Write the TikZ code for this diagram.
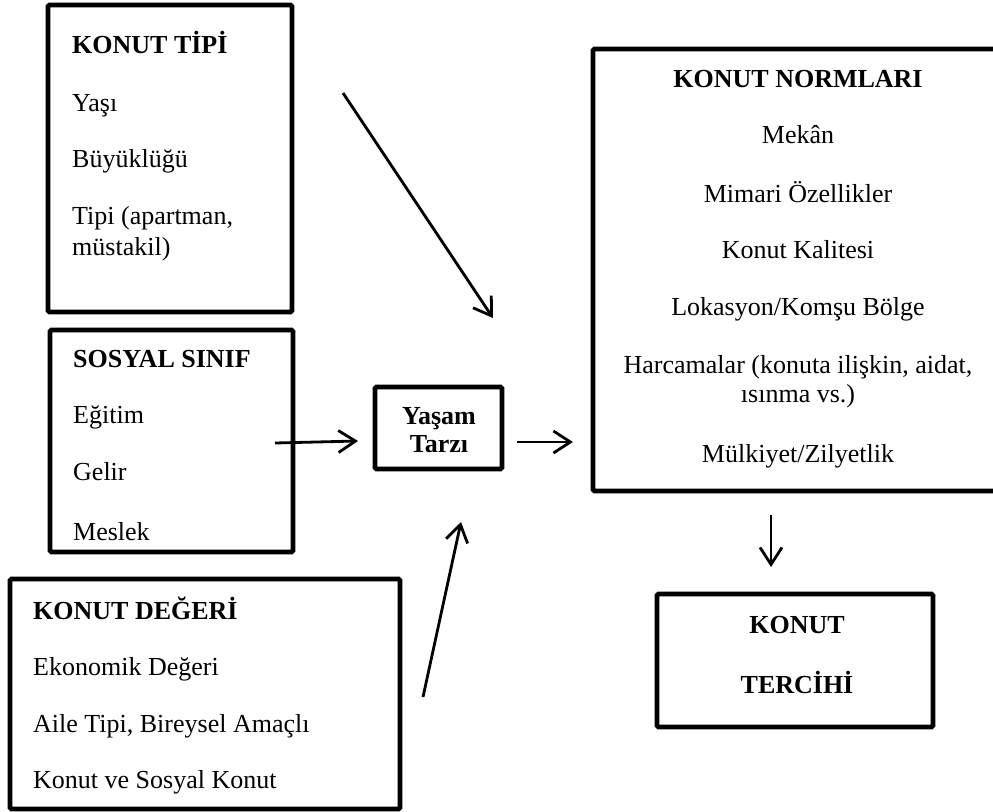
\documentclass[tikz,border=0pt]{standalone}
\usepackage{fontspec}
\setmainfont{Liberation Serif}
\usetikzlibrary{arrows.meta}
\begin{document}
\begin{tikzpicture}[x=1pt,y=-1pt,
  box/.style={draw, rectangle, line width=4.8pt, rounded corners=1.5pt, inner sep=0pt},
  txt/.style={inner sep=0pt, font=\fontsize{26}{29}\selectfont},
  lft/.style={txt, anchor=base west},
  mid/.style={txt, anchor=base},
  hd/.style={font=\fontsize{26}{29}\selectfont\bfseries},
  conn/.style={line width=2.8pt, -{Straight Barb[length=17pt,width=22pt]}}]
\useasboundingbox (0,0) rectangle (993,811);

% frames
\node[box, minimum width=244pt, minimum height=307pt] (tipi)    at (170,158.5) {};
\node[box, minimum width=243pt, minimum height=222pt] (sinif)   at (171.5,441) {};
\node[box, minimum width=390pt, minimum height=230pt] (deger)   at (205,694) {};
\node[box, minimum width=127pt, minimum height=82pt]  (yasam)   at (438.5,428) {};
\node[box, minimum width=420pt, minimum height=442pt] (normlar) at (803,270) {};
\node[box, minimum width=276pt, minimum height=133pt] (tercihi) at (795,660.5) {};

% KONUT TİPİ
\node[lft, hd] (t0) at (72,53)  {KONUT TİPİ};
\node[lft] (t1) at (72,111) {Yaşı};
\node[lft] (t2) at (72,167) {Büyüklüğü};
\node[lft] (t3) at (72,224) {Tipi (apartman,};
\node[lft] (t4) at (72,255) {müstakil)};

% SOSYAL SINIF
\node[lft, hd] (s0) at (73,367) {SOSYAL SINIF};
\node[lft] (s1) at (73,423) {Eğitim};
\node[lft] (s2) at (73,480) {Gelir};
\node[lft] (s3) at (73,540) {Meslek};

% KONUT DEĞERİ
\node[lft, hd] (d0) at (33,619) {KONUT DEĞERİ};
\node[lft] (d1) at (33,675) {Ekonomik Değeri};
\node[lft] (d2) at (33,732) {Aile Tipi, Bireysel Amaçlı};
\node[lft] (d3) at (33,788) {Konut ve Sosyal Konut};

% Yaşam Tarzı
\node[mid, hd] (y0) at (439,424) {Yaşam};
\node[mid, hd] (y1) at (439,452) {Tarzı};

% KONUT NORMLARI
\node[mid, hd] (n0) at (798,87)  {KONUT NORMLARI};
\node[mid] (n1) at (798,143) {Mekân};
\node[mid] (n2) at (798,202) {Mimari Özellikler};
\node[mid] (n3) at (798,258) {Konut Kalitesi};
\node[mid] (n4) at (798,315) {Lokasyon/Komşu Bölge};
\node[mid] (n5) at (798,373) {Harcamalar (konuta ilişkin, aidat,};
\node[mid] (n6) at (798,402) {ısınma vs.)};
\node[mid] (n7) at (798,462) {Mülkiyet/Zilyetlik};

% KONUT TERCİHİ
\node[mid, hd] (c0) at (797,633) {KONUT};
\node[mid, hd] (c1) at (797,693) {TERCİHİ};

% arrow end points
\coordinate (a1s) at (343,93);  \coordinate (a1e) at (493,318);
\coordinate (a2s) at (275,443); \coordinate (a2e) at (358,441);
\coordinate (a3s) at (423,697); \coordinate (a3e) at (461,522);
\coordinate (a4s) at (517,442); \coordinate (a4e) at (573,442);
\coordinate (a5s) at (771,515); \coordinate (a5e) at (771,567);

\draw[conn] (a1s) -- (a1e);
\draw[conn] (a2s) -- (a2e);
\draw[conn] (a3s) -- (a3e);
\draw[conn] (a4s) -- (a4e);
\draw[conn] (a5s) -- (a5e);
\end{tikzpicture}
\end{document}
